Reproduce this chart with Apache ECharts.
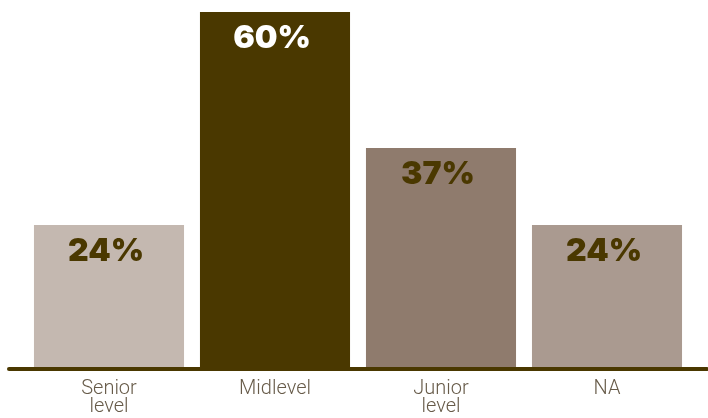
<!DOCTYPE html>
<html>
<head>
<meta charset="utf-8">
<script src="https://cdn.jsdelivr.net/npm/echarts@6/dist/echarts.min.js"></script>
<style>
  html, body { margin: 0; padding: 0; background: #fff; }
  #main { width: 708px; height: 418px; }
</style>
</head>
<body>
<div id="main"></div>
<script>
var categories = ['Senior\nlevel', 'Midlevel', 'Junior\nlevel', 'NA'];
var values = [24, 60, 37, 24];
var barColors = ['#c4b8b0', '#4a3800', '#8f7b6d', '#aa9a90'];
var labelColors = ['#4a3800', '#ffffff', '#4a3800', '#4a3800'];

var myChart = echarts.init(document.getElementById('main'));
myChart.setOption({
  animation: false,
  grid: [
    { left: 26, right: 18, top: 12, bottom: 51 },
    { left: 9, right: 1, top: 12, bottom: 49 }
  ],
  xAxis: [{
    type: 'category',
    gridIndex: 0,
    data: categories,
    axisLine: { show: false },
    axisTick: { show: false },
    axisLabel: {
      margin: 13,
      fontFamily: 'Roboto',
      fontWeight: 300,
      fontSize: 20,
      lineHeight: 18,
      color: '#675b49'
    }
  }, {
    type: 'value',
    gridIndex: 1,
    axisLine: { show: true, lineStyle: { color: '#4a3800', width: 4 } },
    axisTick: { show: false },
    axisLabel: { show: false },
    splitLine: { show: false }
  }],
  yAxis: [{
    type: 'value',
    gridIndex: 0,
    min: 0,
    max: 60,
    show: false
  }, {
    type: 'value',
    gridIndex: 1,
    show: false
  }],
  series: [{
    type: 'bar',
    xAxisIndex: 0,
    yAxisIndex: 0,
    barCategoryGap: '9.6%',
    data: values.map(function (v, i) {
      return {
        value: v,
        itemStyle: { color: barColors[i] },
        label: { color: labelColors[i] }
      };
    }),
    label: {
      show: true,
      position: 'insideTop',
      distance: 10,
      offset: [-3, 0],
      formatter: '{c}%',
      fontFamily: 'Inter',
      fontWeight: 900,
      fontSize: 32
    }
  }]
});
</script>
</body>
</html>
